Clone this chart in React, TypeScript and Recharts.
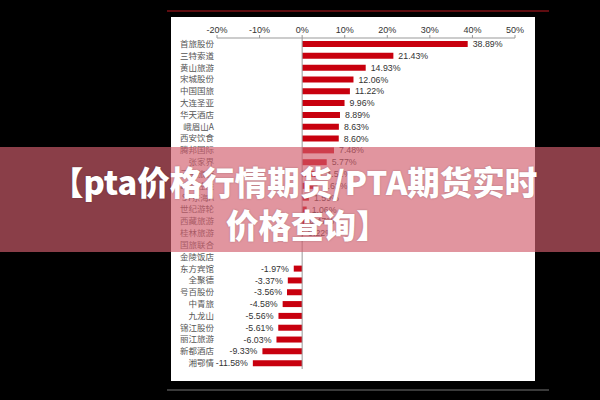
import React from 'react';
import { BarChart, Bar, XAxis, YAxis, ReferenceLine, LabelList } from 'recharts';

const names = [
  '首旅股份', '三特索道', '黄山旅游', '宋城股份', '中国国旅', '大连圣亚', '华天酒店',
  '峨眉山A', '西安饮食', '腾邦国际', '张家界', '云南旅游', '岭南控股', 'ST东海A',
  '世纪游轮', '西藏旅游', '桂林旅游', '国旅联合', '金陵饭店', '东方宾馆', '全聚德',
  '号百股份', '中青旅', '九龙山', '锦江股份', '丽江旅游', '新都酒店', '湘鄂情',
];
const values = [
  38.89, 21.43, 14.93, 12.06, 11.22, 9.96, 8.89,
  8.63, 8.6, 7.48, 5.77, 4.51, 3.62, 1.59,
  1.06, 0.47, 0.22, 0.0, 0.0, -1.97, -3.37,
  -3.56, -4.58, -5.56, -5.61, -6.03, -9.33, -11.58,
];
const xTicks = [-20, -10, 0, 10, 20, 30, 40, 50];
const bannerLine1 = '【pta价格行情期货/PTA期货实时';
const bannerLine2 = '价格查询】';

const data = names.map((n, i) => ({ name: n, value: values[i] }));

const ValueLabel = (props: any) => {
  const { x, y, width, height, value } = props;
  const left = Math.min(x, x + width);
  const right = Math.max(x, x + width);
  const cy = y + height / 2;
  const neg = value < 0;
  return (
    <text
      x={neg ? left - 5 : right + 5}
      y={cy}
      dy="0.35em"
      textAnchor={neg ? 'end' : 'start'}
      fontSize={8.8}
      fontFamily="'Liberation Sans', Arial, sans-serif"
      fill="#333"
    >
      {value.toFixed(2) + '%'}
    </text>
  );
};

const bannerText: React.CSSProperties = {
  position: 'absolute', color: '#fff', fontFamily: "'Noto Sans CJK SC', sans-serif", fontWeight: 900,
  fontSize: 32.5, lineHeight: '43px', textShadow: '0 0 2px rgba(0,0,0,0.25)', whiteSpace: 'nowrap',
};

export default function App() {
  return (
    <div style={{ position: 'fixed', left: 0, top: 0, width: 600, height: 400, background: '#000', overflow: 'hidden' }}>
      <div style={{ position: 'absolute', left: 167, top: 10, width: 382, height: 2, background: '#5e0c10' }} />
      <div style={{ position: 'absolute', left: 167, top: 389, width: 382, height: 2, background: '#3a3a3a' }} />
      <div style={{ position: 'absolute', left: 171, top: 17, width: 364, height: 364, background: '#fff' }}>
        <BarChart
          width={364}
          height={364}
          data={data}
          layout="vertical"
          margin={{ top: 6, right: 20, bottom: 12, left: 0 }}
          barCategoryGap={0}
        >
          <XAxis
            type="number"
            orientation="top"
            domain={[-20, 50]}
            ticks={xTicks}
            tickFormatter={(v: number) => v + '%'}
            height={15}
            tickSize={3}
            tickMargin={2}
            stroke="#999"
            tick={{ fontSize: 9, fill: '#333', fontFamily: "'Liberation Sans', Arial, sans-serif" }}
            interval={0}
          />
          <YAxis
            type="category"
            dataKey="name"
            width={46}
            interval={0}
            tickLine={false}
            axisLine={false}
            tickSize={0}
            tickMargin={3}
            tick={{ fontSize: 8.5, fill: '#555', fontFamily: "'Noto Sans CJK SC', sans-serif" }}
          />
          <ReferenceLine x={0} stroke="#999" strokeWidth={1} />
          <Bar dataKey="value" fill="#c8000e" barSize={6} isAnimationActive={false}>
            <LabelList dataKey="value" content={ValueLabel} />
          </Bar>
        </BarChart>
      </div>
      <div style={{ position: 'absolute', left: 0, top: 147, width: 600, height: 105, background: 'rgba(210, 94, 110, 0.66)' }} />
      <div style={{ ...bannerText, left: 51, top: 159 }}>{bannerLine1}</div>
      <div style={{ ...bannerText, left: 226, top: 202 }}>{bannerLine2}</div>
    </div>
  );
}
